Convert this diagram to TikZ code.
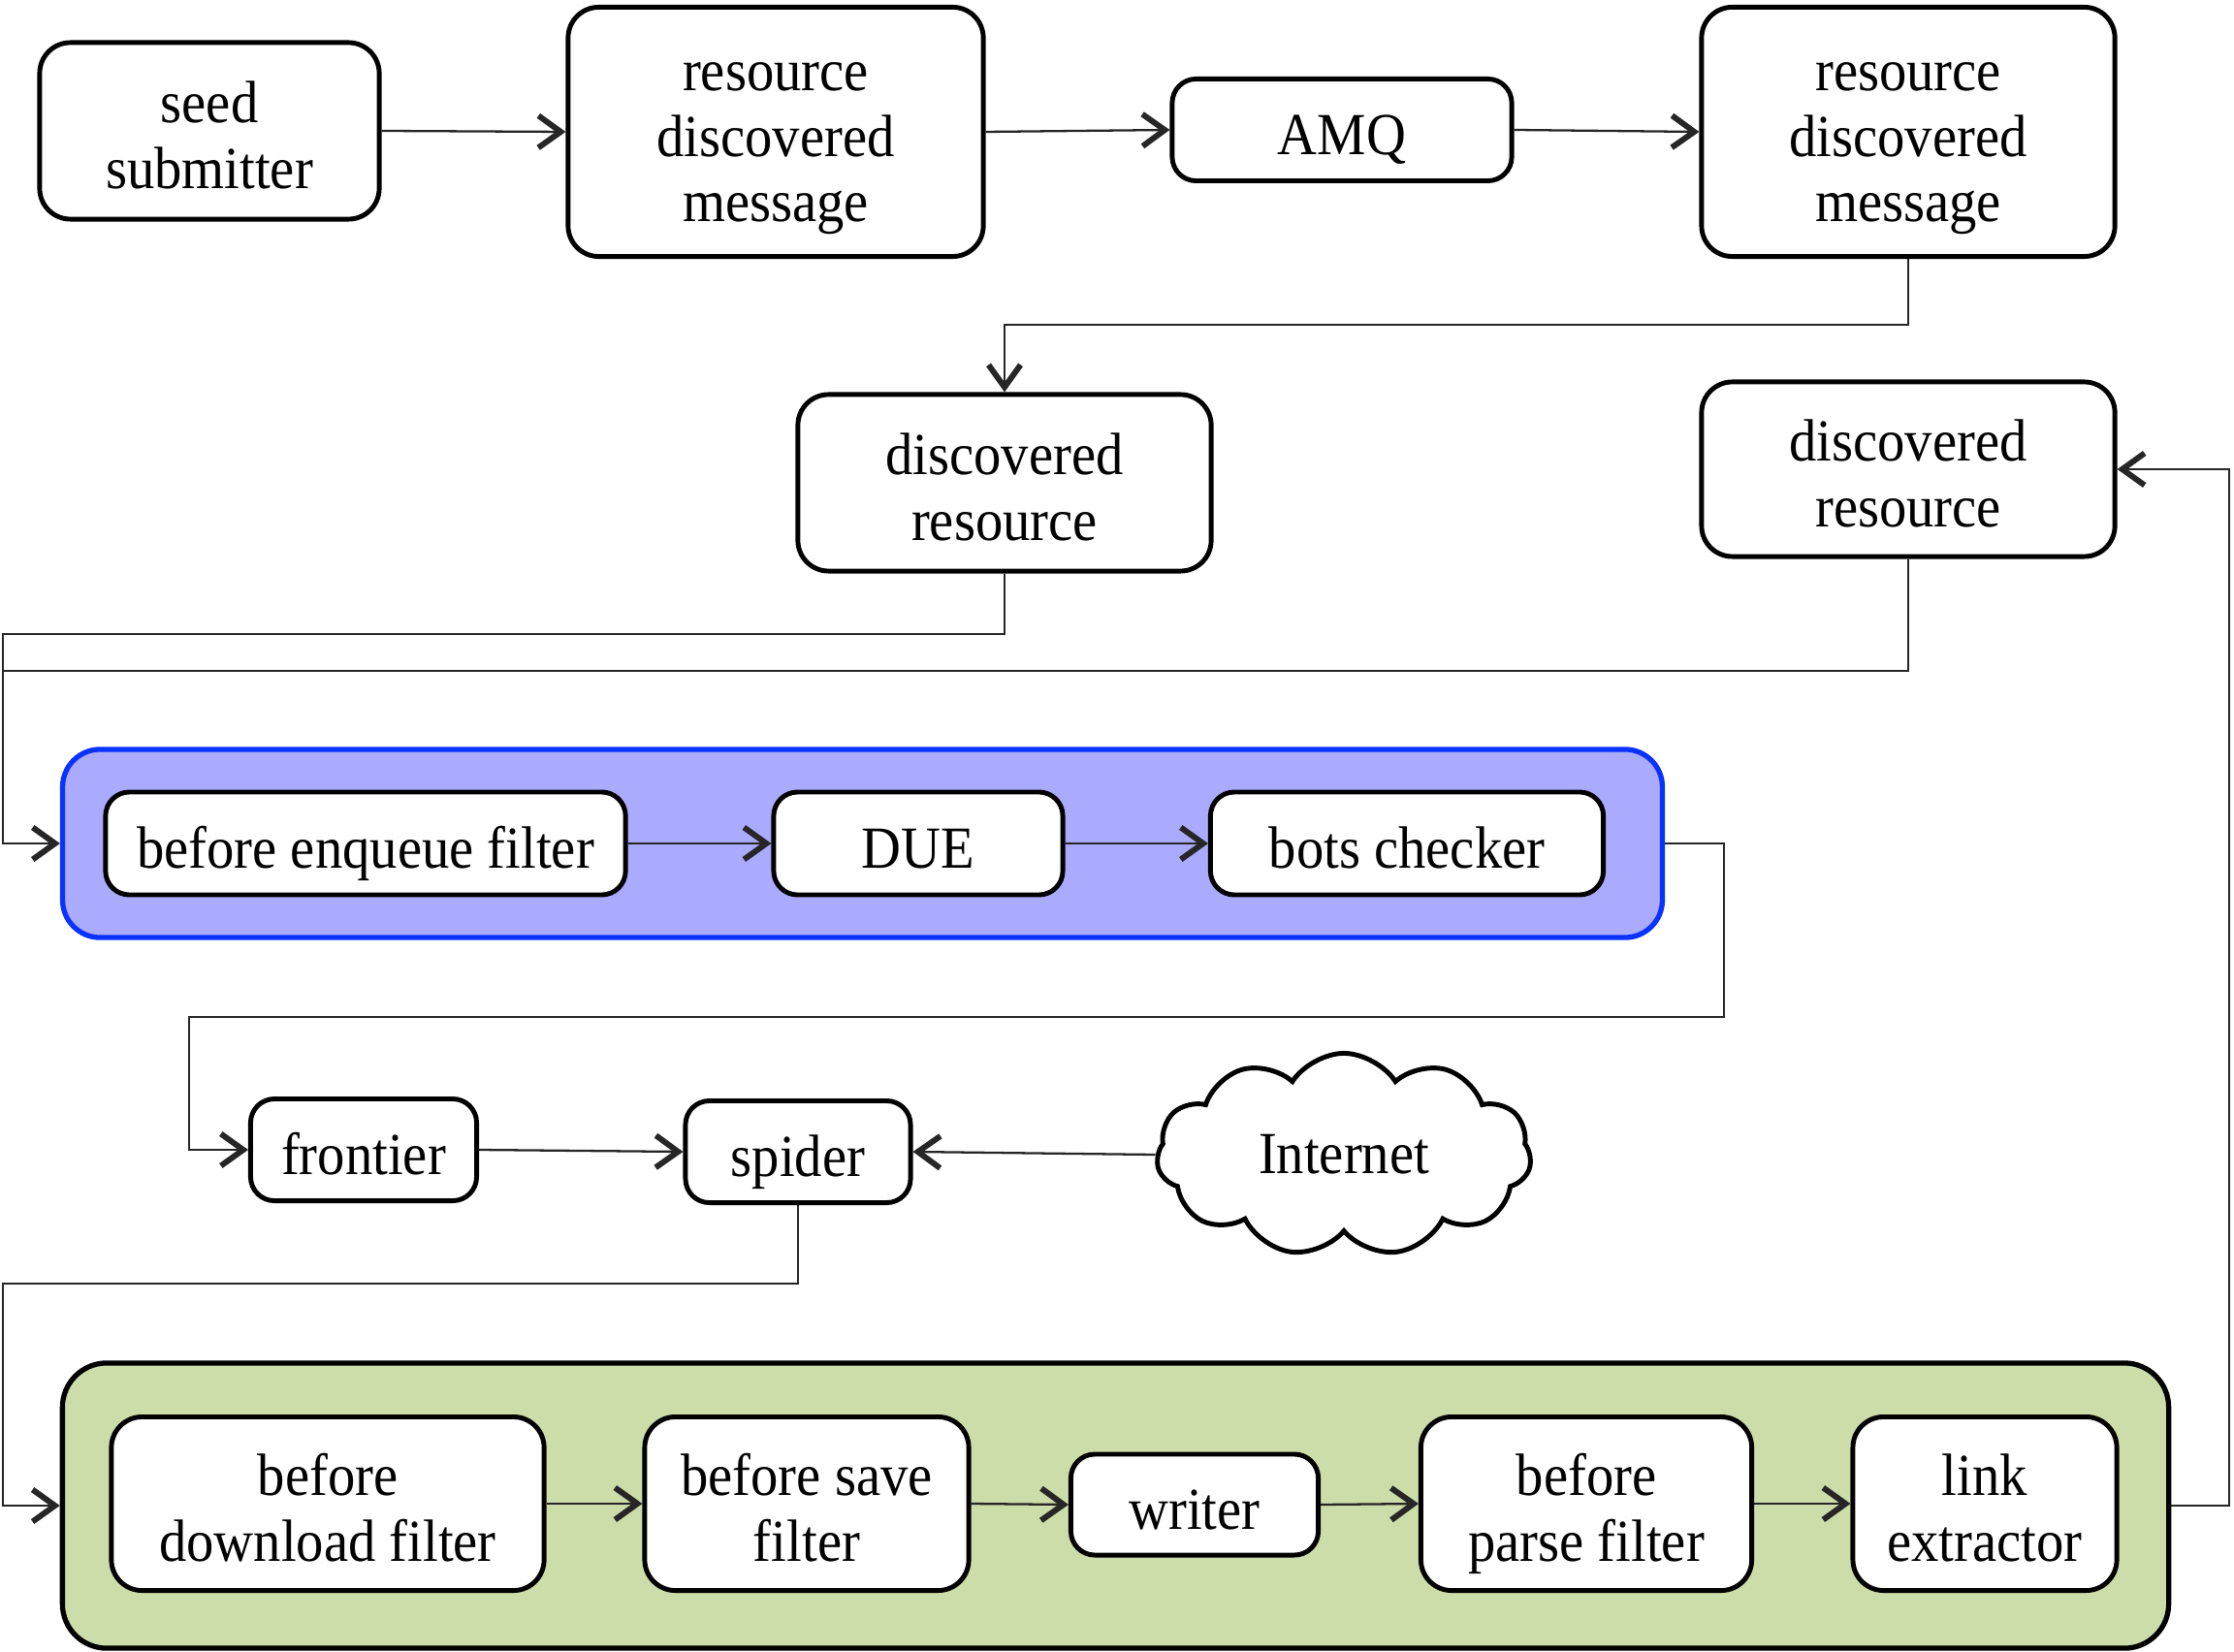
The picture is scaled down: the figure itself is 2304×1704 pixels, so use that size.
\documentclass[tikz,border=0pt]{standalone}
\usepackage{fontspec}
\setmainfont{Liberation Serif}[FakeStretch=0.92]
\usetikzlibrary{arrows.meta,shapes.symbols}
\newcommand\diagfs{\fontsize{17.5pt}{19.2pt}\selectfont}
\definecolor{bluefill}{RGB}{170,170,255}
\definecolor{blueline}{RGB}{10,50,255}
\definecolor{greenfill}{RGB}{204,221,170}
\tikzset{
  box/.style={draw, line width=1.4pt, rounded corners=9pt, fill=white, align=center,
    inner sep=0pt, font=\diagfs, text depth=2.4pt},
  lone/.style={text height=16.8pt},
  ltwo/.style={text height=36pt},
  lthree/.style={text height=55.2pt},
  conn/.style={line width=0.65pt, draw=black!85},
  arr/.style={conn, -{Straight Barb[length=2.3mm,width=3.3mm,line width=1.7pt]}},
}
\begin{document}
\begin{tikzpicture}[x=0.01cm,y=-0.01cm]
\path[use as bounding box] (0,0) rectangle (2304,1704);

% containers
\node (bluebox) [draw=blueline, fill=bluefill, line width=1.5pt, rounded corners=11pt,
  minimum width=16.49cm, minimum height=1.94cm] at (889.5,870) {};
\node (greenbox) [draw=black, fill=greenfill, line width=1.5pt, rounded corners=13pt,
  minimum width=21.71cm, minimum height=2.94cm] at (1150.5,1553) {};

% top row
\node (seed) [box, ltwo, minimum width=3.5cm, minimum height=1.82cm] at (216,135) {seed\\submitter};
\node (rdm1) [box, lthree, minimum width=4.28cm, minimum height=2.57cm] at (800,136) {resource\\discovered\\message};
\node (amq) [box, lone, minimum width=3.5cm, minimum height=1.05cm, rounded corners=7pt] at (1384,134) {AMQ};
\node (rdm2) [box, lthree, minimum width=4.26cm, minimum height=2.57cm] at (1968,136) {resource\\discovered\\message};

% discovered resources
\node (dr1) [box, ltwo, minimum width=4.26cm, minimum height=1.82cm] at (1036,498) {discovered\\resource};
\node (dr2) [box, ltwo, minimum width=4.26cm, minimum height=1.80cm] at (1968,484) {discovered\\resource};

% blue row
\node (bef) [box, lone, minimum width=5.36cm, minimum height=1.06cm, rounded corners=7pt] at (377,870) {before enqueue filter};
\node (due) [box, lone, minimum width=2.98cm, minimum height=1.06cm, rounded corners=7pt] at (947,870) {DUE};
\node (bots) [box, lone, minimum width=4.05cm, minimum height=1.06cm, rounded corners=7pt] at (1451,870) {bots checker};

% middle row
\node (frontier) [box, lone, minimum width=2.33cm, minimum height=1.05cm, rounded corners=7pt] at (375,1186) {frontier};
\node (spider) [box, lone, minimum width=2.32cm, minimum height=1.05cm, rounded corners=7pt] at (823,1188) {spider};
\node (internet) [draw, cloud, cloud puffs=11, cloud puff arc=115, aspect=1.85, line width=1.4pt,
  fill=white, inner sep=0pt, minimum width=3.86cm, minimum height=2.09cm, font=\diagfs] at (1386,1191) {Internet};

% green row
\node (bdf) [box, ltwo, minimum width=4.46cm, minimum height=1.79cm] at (338,1551) {before\\download filter};
\node (bsf) [box, ltwo, minimum width=3.34cm, minimum height=1.79cm] at (832,1551) {before save\\filter};
\node (writer) [box, lone, minimum width=2.55cm, minimum height=1.04cm, rounded corners=7pt] at (1232,1552) {writer};
\node (bpf) [box, ltwo, minimum width=3.41cm, minimum height=1.79cm] at (1636,1551) {before\\parse filter};
\node (le) [box, ltwo, minimum width=2.72cm, minimum height=1.79cm] at (2047,1551) {link\\extractor};

% bend points
\coordinate (c1) at (1036,335);
\coordinate (k1) at (3,654);
\coordinate (k2) at (3,692);
\coordinate (k3) at (1778,1049);
\coordinate (k4) at (195,1049);
\coordinate (k5) at (3,1324);
\coordinate (k6) at (2299,1000);

% connectors
\draw[arr] (seed.east) -- (rdm1.west);
\draw[arr] (rdm1.east) -- (amq.west);
\draw[arr] (amq.east) -- (rdm2.west);
\draw[arr] (rdm2.south) |- (c1) -- (dr1.north);
\draw[arr] (dr1.south) |- (k1) |- (bluebox.west);
\draw[conn] (dr2.south) |- (k2);
\draw[arr] (bef.east) -- (due.west);
\draw[arr] (due.east) -- (bots.west);
\draw[arr] (bluebox.east) -| (k3) -- (k4) |- (frontier.west);
\draw[arr] (frontier.east) -- (spider.west);
\draw[arr] (internet.west) -- (spider.east);
\draw[arr] (spider.south) |- (k5) |- (greenbox.west);
\draw[arr] (bdf.east) -- (bsf.west);
\draw[arr] (bsf.east) -- (writer.west);
\draw[arr] (writer.east) -- (bpf.west);
\draw[arr] (bpf.east) -- (le.west);
\draw[arr] (greenbox.east) -| (k6) |- (dr2.east);
\end{tikzpicture}
\end{document}
